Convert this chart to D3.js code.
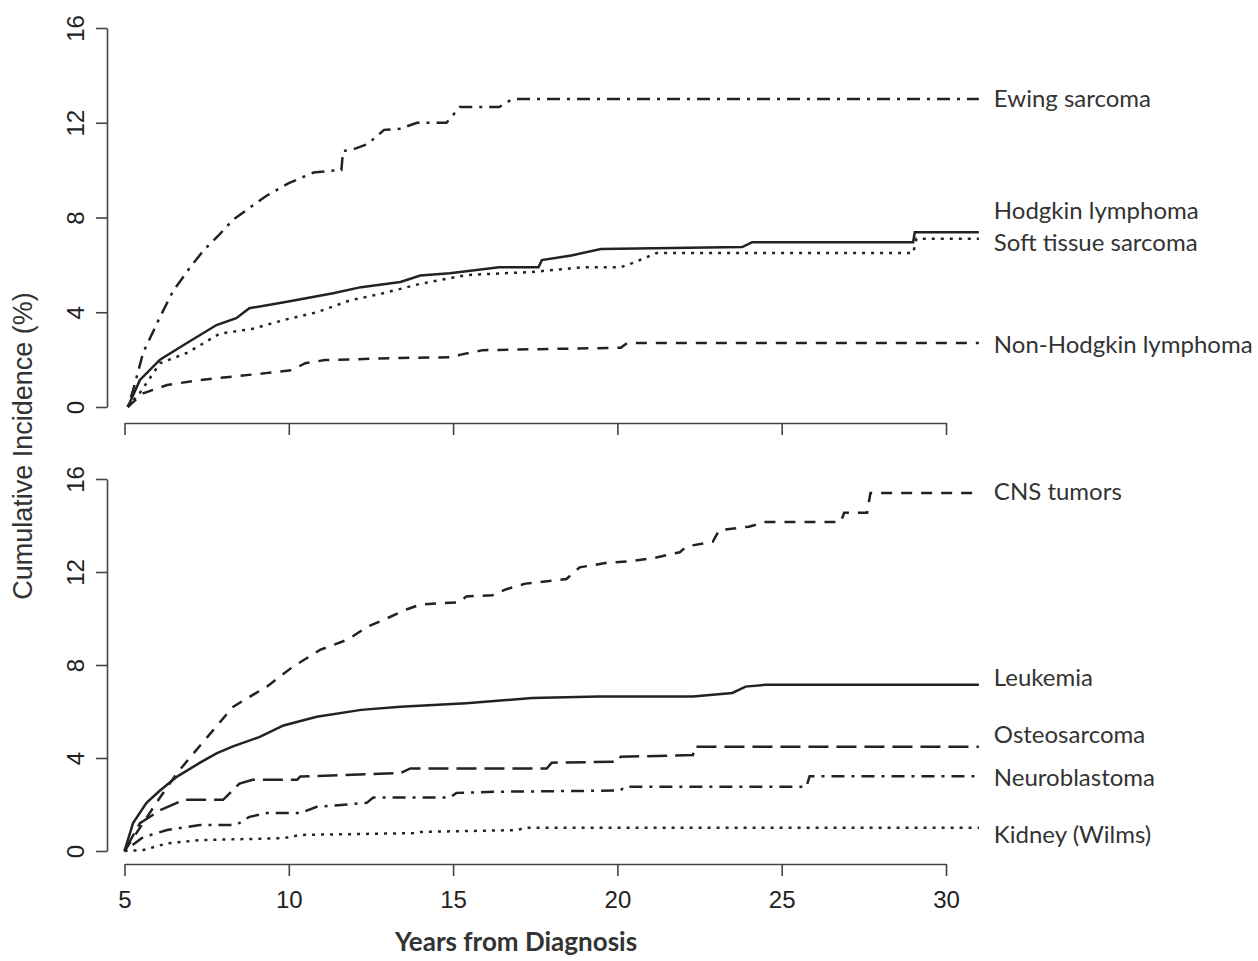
<!DOCTYPE html>
<html>
  <head>
    <meta charset="utf-8">
    <style>
      body { margin: 0; background: #fff; }
      .lbl { font-family: Lato, "Open Sans", sans-serif; font-size: 24px; fill: #333; }
      .axis text { font-family: "Liberation Sans", Arial, sans-serif; font-size: 24px; fill: #222; }
      .axis path, .axis line { stroke: #444; stroke-width: 1.6; }
    </style>
  </head>
  <body>
    <script src="https://cdn.jsdelivr.net/npm/d3@7"></script>
    <script>
    // top panel series [years, cumulative incidence %]
    var ewing = [[5.1,0],[5.26,0.7],[5.57,2.3],[6.08,3.8],[6.48,4.9],[7.0,5.9],[7.4,6.6],[7.9,7.3],[8.3,7.9],[8.8,8.4],[9.3,8.9],[10.0,9.45],[10.75,9.9],[11.5,10.0],[11.6,10.0],[11.65,10.8],[12.0,10.9],[12.4,11.1],[12.9,11.7],[13.4,11.75],[13.9,12.0],[14.8,12.0],[15.2,12.66],[16.4,12.66],[16.8,13.0],[31,13.0]];
    var hodgkin = [[5.1,0],[5.47,1.14],[6.08,2.0],[6.9,2.7],[7.8,3.46],[8.4,3.75],[8.8,4.17],[9.9,4.43],[11.35,4.8],[12.2,5.06],[13.4,5.28],[14.0,5.55],[14.9,5.65],[16.4,5.9],[17.6,5.9],[17.7,6.2],[18.6,6.4],[19.5,6.67],[23.8,6.75],[24.1,6.96],[29.0,6.96],[29.05,7.38],[31,7.38]];
    var softTissue = [[5.1,0],[5.47,0.6],[6.08,1.85],[6.9,2.28],[7.9,3.1],[8.9,3.3],[9.84,3.67],[10.85,4.0],[11.86,4.5],[12.87,4.8],[14.0,5.2],[15.4,5.57],[17.4,5.7],[18.95,5.9],[20.1,5.9],[20.5,6.1],[21.2,6.5],[29.0,6.5],[29.1,7.1],[31,7.1]];
    var nhl = [[5.1,0],[5.57,0.58],[6.3,0.93],[7.3,1.14],[9.3,1.43],[10.1,1.56],[10.5,1.85],[11.1,1.98],[13.4,2.07],[15.0,2.1],[15.2,2.2],[15.9,2.4],[20.1,2.5],[20.3,2.7],[31,2.7]];

    // bottom panel series
    var cns = [[5.0,0],[5.47,1.0],[6.08,2.3],[6.6,3.35],[7.1,4.2],[7.7,5.2],[8.3,6.2],[9.33,7.07],[10.1,7.9],[10.95,8.65],[11.8,9.1],[12.4,9.65],[12.9,9.95],[13.6,10.4],[14.0,10.6],[15.2,10.7],[15.4,10.95],[16.2,11.0],[16.6,11.25],[17.2,11.5],[18.45,11.7],[18.85,12.2],[19.7,12.4],[20.3,12.45],[21.1,12.6],[21.9,12.85],[22.1,13.1],[22.9,13.3],[23.1,13.8],[24.0,13.95],[24.5,14.15],[26.8,14.15],[26.9,14.55],[27.6,14.55],[27.7,15.4],[31,15.4]];
    var leukemia = [[5.0,0],[5.26,1.2],[5.67,2.07],[6.08,2.6],[6.6,3.2],[7.3,3.8],[7.8,4.2],[8.3,4.5],[9.1,4.9],[9.84,5.4],[10.85,5.77],[12.2,6.07],[13.4,6.2],[15.4,6.36],[17.4,6.58],[19.45,6.65],[22.3,6.65],[23.5,6.8],[23.9,7.07],[24.5,7.15],[31,7.15]];
    var osteo = [[5.0,0],[5.47,1.2],[6.08,1.75],[6.8,2.2],[8.0,2.2],[8.5,2.9],[8.9,3.06],[10.25,3.06],[10.35,3.2],[13.4,3.35],[13.7,3.55],[17.85,3.55],[18.0,3.8],[20.0,3.84],[20.1,4.05],[22.3,4.13],[22.35,4.48],[31,4.48]];
    var neuro = [[5.0,0],[5.57,0.6],[6.3,0.9],[7.3,1.12],[8.4,1.12],[8.8,1.47],[9.33,1.63],[10.35,1.63],[10.85,1.9],[12.37,2.07],[12.57,2.3],[14.9,2.3],[15.1,2.5],[16.4,2.55],[20.1,2.6],[20.2,2.76],[25.75,2.76],[25.85,3.22],[31,3.22]];
    var kidney = [[5.0,0],[5.57,0.04],[6.3,0.33],[7.3,0.47],[9.84,0.55],[10.35,0.69],[13.8,0.77],[14.0,0.82],[16.95,0.9],[17.2,1.0],[31,1.0]];

    var topNames = ["Ewing sarcoma", "Hodgkin lymphoma", "Soft tissue sarcoma", "Non-Hodgkin lymphoma"];
    var topLabelY = [13.04, 8.31, 6.92, 2.62];
    var botNames = ["CNS tumors", "Leukemia", "Osteosarcoma", "Neuroblastoma", "Kidney (Wilms)"];
    var botLabelY = [15.47, 7.46, 5.0, 3.15, 0.69];
    var xTicks = [5, 10, 15, 20, 25, 30];
    var yTicks = [0, 4, 8, 12, 16];

    var dash = {
      solid: null,
      dashed: "11,9",
      dotted: "3,6",
      dotdash: "3,7,13,7",
      longdash: "20,8"
    };

    var width = 1258, height = 961;
    var svg = d3.select("body").append("svg")
        .attr("width", width)
        .attr("height", height);

    var x = d3.scaleLinear().domain([5, 30]).range([124.5, 946]);
    var yTop = d3.scaleLinear().domain([0, 16]).range([407, 28]);
    var yBot = d3.scaleLinear().domain([0, 16]).range([851, 479]);

    function drawPanel(y, axisY, series, styles, names, labelY, showX) {
      var line = d3.line()
          .x(function (d) { return x(d[0]); })
          .y(function (d) { return y(d[1]); });

      series.forEach(function (s, i) {
        svg.append("path")
          .datum(s)
          .attr("fill", "none")
          .attr("stroke", "#222")
          .attr("stroke-width", 2.5)
          .attr("stroke-dasharray", dash[styles[i]])
          .attr("d", line);
      });

      var ya = svg.append("g")
          .attr("class", "axis")
          .attr("transform", "translate(107,0)")
          .call(d3.axisLeft(y).tickValues(yTicks).tickSize(11).tickSizeOuter(0));
      ya.selectAll(".tick text")
          .attr("transform", "rotate(-90)")
          .attr("x", 0)
          .attr("y", -23)
          .attr("dy", null)
          .attr("text-anchor", "middle");

      svg.append("g")
          .attr("class", "axis")
          .attr("transform", "translate(0," + axisY + ")")
          .call(d3.axisBottom(x).tickValues(xTicks).tickSize(12).tickSizeOuter(0).tickPadding(15)
            .tickFormat(showX ? d3.format("d") : ""));

      svg.selectAll(null)
        .data(names)
        .enter().append("text")
          .attr("class", "lbl")
          .attr("x", x(31) + 15)
          .attr("y", function (d, i) { return y(labelY[i]); })
          .attr("dy", "0.35em")
          .text(function (d) { return d; });
    }

    drawPanel(yTop, 423, [ewing, hodgkin, softTissue, nhl],
      ["dotdash", "solid", "dotted", "dashed"], topNames, topLabelY, false);
    drawPanel(yBot, 864, [cns, leukemia, osteo, neuro, kidney],
      ["dashed", "solid", "longdash", "dotdash", "dotted"], botNames, botLabelY, true);

    svg.append("text")
      .attr("transform", "translate(32,446) rotate(-90)")
      .attr("text-anchor", "middle")
      .style("font-family", "'Liberation Sans', Arial, sans-serif")
      .style("font-size", "27px")
      .style("fill", "#333")
      .text("Cumulative Incidence (%)");

    svg.append("text")
      .attr("x", 516)
      .attr("y", 951)
      .attr("text-anchor", "middle")
      .style("font-family", "Lato, 'Open Sans', sans-serif")
      .style("font-size", "26px")
      .style("font-weight", "bold")
      .style("fill", "#333")
      .text("Years from Diagnosis");
    </script>
  </body>
</html>
